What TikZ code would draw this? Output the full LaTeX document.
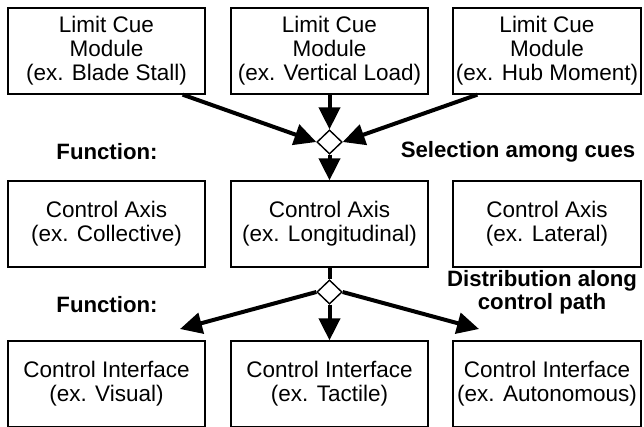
\documentclass[tikz,border=0pt]{standalone}
\usepackage{fontspec}
\setmainfont{Liberation Sans}
\usetikzlibrary{arrows.meta,shapes.geometric}
\tikzset{
  box/.style={draw,line width=1.3pt,align=center,inner sep=0pt,
    font=\fontsize{22.5}{24}\selectfont},
  lbl/.style={align=center,inner sep=0pt,font=\fontsize{22.2}{23}\selectfont\bfseries},
  junct/.style={draw,diamond,fill=white,line width=1.3pt,minimum width=25pt,minimum height=24pt,inner sep=0pt},
  flow/.style={line width=4pt,-{Triangle[length=22pt,width=21pt]}},
  plain/.style={line width=4pt}
}
\begin{document}
\begin{tikzpicture}[x=1pt,y=-1pt]
\useasboundingbox (0,0) rectangle (644,426);
\clip (0,0) rectangle (644,426);
% top row
\node[box,minimum width=197pt,minimum height=86pt] (t1) at (106.5,51) {Limit Cue\\Module\\(ex. Blade Stall)};
\node[box,minimum width=197pt,minimum height=86pt] (t2) at (329.5,51) {Limit Cue\\Module\\(ex. Vertical Load)};
\node[box,minimum width=188pt,minimum height=86pt] (t3) at (547,51) {Limit Cue\\Module\\(ex. Hub Moment)};
% middle row
\node[box,minimum width=197pt,minimum height=86pt] (m1) at (106.5,224) {Control Axis\\(ex. Collective)};
\node[box,minimum width=197pt,minimum height=86pt] (m2) at (329.5,224) {Control Axis\\(ex. Longitudinal)};
\node[box,minimum width=188pt,minimum height=86pt] (m3) at (547,224) {Control Axis\\(ex. Lateral)};
% bottom row (cut off at the bottom)
\node[box,minimum width=197pt,minimum height=86pt] (b1) at (106.5,384) {Control Interface\\(ex. Visual)};
\node[box,minimum width=197pt,minimum height=86pt] (b2) at (329.5,384) {Control Interface\\(ex. Tactile)};
\node[box,minimum width=188pt,minimum height=86pt] (b3) at (547,384) {Control Interface\\(ex. Autonomous)};
% junctions
\node[junct] (d1) at (329.5,142) {};
\node[junct] (d2) at (329.5,292) {};
% labels
\node[lbl] (f1) at (107,152) {Function:};
\node[lbl] (s1) at (518,152) {Selection among cues};
\node[lbl] (f2) at (107,305) {Function:};
\node[lbl] (s2) at (542,292) {Distribution along\\control path};
% connectors
\draw[flow] ([xshift=-23pt]t1.south east) -- (d1.west);
\draw[flow] ([xshift=25pt]t3.south west) -- (d1.east);
\draw[flow] (t2.south) -- (d1.north);
\draw[flow] (d1.south) -- (m2.north);
\draw[plain] (m2.south) -- (d2.north);
\coordinate (e1) at (180,329);
\coordinate (e3) at (479,329);
\draw[flow] (d2.west) -- (e1);
\draw[flow] (d2.east) -- (e3);
\draw[flow] (d2.south) -- (b2.north);
\node[junct] at (d1) {};
\node[junct] at (d2) {};
\end{tikzpicture}
\end{document}
